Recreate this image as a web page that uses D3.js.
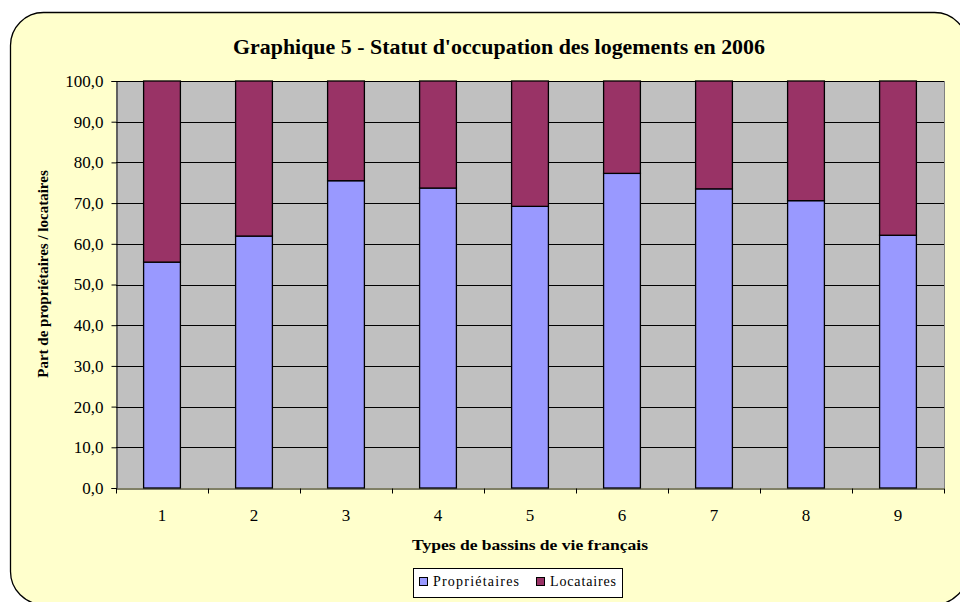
<!DOCTYPE html>
<html>
<head>
<meta charset="utf-8">
<script src="https://cdn.jsdelivr.net/npm/d3@7"></script>
<style>
  body { margin: 0; background: #fff; }
  text { font-family: "Liberation Serif", "Times New Roman", serif; fill: #000; }
</style>
</head>
<body>
<script>
const categories = ['1', '2', '3', '4', '5', '6', '7', '8', '9'];
const proprietaires = [55.5, 61.9, 75.5, 73.7, 69.2, 77.3, 73.5, 70.6, 62.1];
const locataires = proprietaires.map(v => +(100 - v).toFixed(1));
const yTicks = [0, 10, 20, 30, 40, 50, 60, 70, 80, 90, 100];
const seriesNames = ['Propriétaires', 'Locataires'];
const colors = ['#9999FF', '#993366'];

const svgWidth = 960;
const svgHeight = 602;
const plot = { left: 116, right: 944, top: 81, bottom: 488 };

const svg = d3.select('body')
    .append('svg')
    .attr('width', svgWidth)
    .attr('height', svgHeight);

// chart background
svg.append('rect')
    .attr('x', 10.5)
    .attr('y', 12.5)
    .attr('width', 957)
    .attr('height', 592)
    .attr('rx', 33)
    .attr('fill', '#FFFFCC')
    .attr('stroke', '#000')
    .attr('stroke-width', 1.3);

svg.append('text')
    .attr('x', 233)
    .attr('y', 54)
    .attr('textLength', 532)
    .attr('lengthAdjust', 'spacingAndGlyphs')
    .style('font-size', '21px')
    .style('font-weight', 'bold')
    .text("Graphique 5 - Statut d'occupation des logements en 2006");

const x = d3.scaleBand()
    .domain(categories)
    .range([plot.left, plot.right])
    .paddingInner(0)
    .paddingOuter(0);

const y = d3.scaleLinear()
    .domain([0, 100])
    .range([plot.bottom, plot.top]);

svg.append('rect')
    .attr('x', plot.left)
    .attr('y', plot.top)
    .attr('width', plot.right - plot.left)
    .attr('height', plot.bottom - plot.top)
    .attr('fill', '#C0C0C0');

// gridlines
svg.append('g')
    .selectAll('line')
    .data(yTicks.slice(1))
    .enter()
    .append('line')
    .attr('x1', plot.left)
    .attr('x2', plot.right)
    .attr('y1', d => Math.round(y(d)) + 0.5)
    .attr('y2', d => Math.round(y(d)) + 0.5)
    .attr('stroke', '#000')
    .attr('stroke-width', 1);

// right edge of plot area
svg.append('line')
    .attr('x1', plot.right + 0.5)
    .attr('x2', plot.right + 0.5)
    .attr('y1', plot.top)
    .attr('y2', plot.bottom)
    .attr('stroke', '#808080');

const stacked = categories.map((c, i) => ({ cat: c, p: proprietaires[i], l: locataires[i] }));
const stack = d3.stack().keys(['p', 'l'])(stacked);

const barW = x.bandwidth() * 0.4;

svg.append('g')
    .selectAll('g')
    .data(stack)
    .enter()
    .append('g')
    .attr('fill', (d, i) => colors[i])
    .selectAll('rect')
    .data(d => d)
    .enter()
    .append('rect')
    .attr('x', d => x(d.data.cat) + (x.bandwidth() - barW) / 2)
    .attr('y', d => y(d[1]))
    .attr('width', barW)
    .attr('height', d => y(d[0]) - y(d[1]))
    .attr('stroke', '#000')
    .attr('stroke-width', 1.3);

// y axis
const yAxis = svg.append('g')
    .attr('transform', `translate(${plot.left + 0.5},0)`)
    .call(d3.axisLeft(y).tickValues(yTicks).tickSize(5).tickPadding(8)
        .tickFormat(d => d3.format('.1f')(d).replace('.', ',')));
yAxis.select('.domain').attr('stroke', '#000');
yAxis.selectAll('text').style('font-size', '17px').attr('font-family', null);

// x axis
const xAxis = svg.append('g')
    .attr('transform', `translate(0,${plot.bottom + 0.5})`)
    .call(d3.axisBottom(x).tickSize(0).tickPadding(20));
xAxis.select('.domain').attr('stroke', '#000');
xAxis.selectAll('text').style('font-size', '17px').attr('font-family', null);

xAxis.append('g')
    .selectAll('line')
    .data(d3.range(categories.length + 1))
    .enter()
    .append('line')
    .attr('x1', i => Math.round(plot.left + i * x.step()) + 0.5)
    .attr('x2', i => Math.round(plot.left + i * x.step()) + 0.5)
    .attr('y1', 0)
    .attr('y2', 5)
    .attr('stroke', '#000');

svg.append('text')
    .attr('x', 412)
    .attr('y', 550)
    .attr('textLength', 236)
    .attr('lengthAdjust', 'spacingAndGlyphs')
    .style('font-size', '14px')
    .style('font-weight', 'bold')
    .text('Types de bassins de vie français');

svg.append('text')
    .attr('transform', 'translate(48,274) rotate(-90)')
    .attr('text-anchor', 'middle')
    .style('font-size', '15px')
    .style('font-weight', 'bold')
    .text('Part de propriétaires / locataires');

// legend
const legend = svg.append('g');
legend.append('rect')
    .attr('x', 413.5)
    .attr('y', 568.5)
    .attr('width', 209)
    .attr('height', 29)
    .attr('fill', '#fff')
    .attr('stroke', '#000');

const legendX = [419, 536];
const legendW = [86, 66];
const items = legend.selectAll('g.item')
    .data(seriesNames)
    .enter()
    .append('g')
    .attr('class', 'item')
    .attr('transform', (d, i) => `translate(${legendX[i]},577)`);
items.append('rect')
    .attr('width', 8)
    .attr('height', 8)
    .attr('y', 0.5)
    .attr('x', 0.5)
    .attr('fill', (d, i) => colors[i])
    .attr('stroke', '#000');
items.append('text')
    .attr('x', 14)
    .attr('y', 9)
    .attr('textLength', (d, i) => legendW[i])
    .attr('lengthAdjust', 'spacing')
    .style('font-size', '14px')
    .text(d => d);
</script>
</body>
</html>
